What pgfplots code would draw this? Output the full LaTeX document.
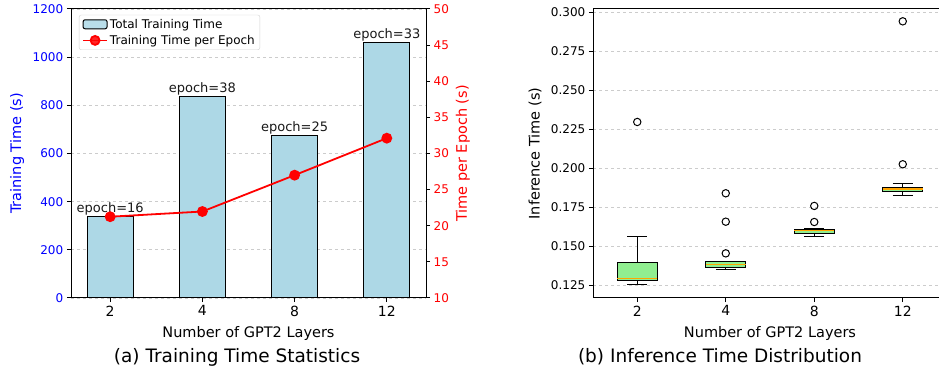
\documentclass[border=0pt]{standalone}
\usepackage{pgfplots}
\pgfplotsset{compat=1.18}
\usepgfplotslibrary{statistics}
\usepackage{fontspec}
\setmainfont{DejaVu Sans}
\definecolor{barblue}{HTML}{ADD8E6}
\definecolor{boxgreen}{HTML}{90EE90}
\definecolor{medorange}{HTML}{FFA500}
\definecolor{gridgray}{HTML}{CCCCCC}
\definecolor{tblue}{HTML}{0000FF}
\definecolor{tred}{HTML}{FF0000}
\begin{document}
\begin{tikzpicture}
\path[use as bounding box] (0pt,0pt) rectangle (939pt,371pt);
\clip (0pt,0pt) rectangle (939pt,371pt);
\pgfplotsset{
  every axis/.append style={
    scale only axis,
    /pgf/number format/assume math mode=true,
    /pgf/number format/set thousands separator={},
    axis line style={line width=1pt, black},
    every tick/.style={line width=1pt, black},
    tick align=outside,
    major tick length=4.2pt,
    xticklabel style={font=\fontsize{14}{16}\selectfont},
    yticklabel style={font=\fontsize{12}{14}\selectfont},
    label style={font=\fontsize{14.5}{17}\selectfont},
    grid style={dashed, gridgray, line width=0.8pt},
  }
}
% ---------- (a) bars ----------
\begin{axis}[
  at={(71pt,73pt)}, anchor=south west, width=355pt, height=289pt,
  xmin=-0.425, xmax=3.425, ymin=0, ymax=1200,
  xtick={0,1,2,3}, xticklabels={2,4,8,12},
  ytick={0,200,400,600,800,1000,1200},
  xtick pos=left, ytick pos=left,
  ymajorgrids,
  yticklabel style={text=tblue},
  xlabel={Number of GPT2 Layers},
  xlabel style={at={(axis description cs:0.5,0)}, anchor=base, yshift=-40pt},
  ylabel={Training Time (s)},
  ylabel style={at={(axis description cs:-0.152,0.5)}, anchor=center, text=tblue},
  ybar, bar width=0.5,
  nodes near coords={\pgfplotspointmeta},
  point meta=explicit symbolic,
  nodes near coords style={font=\fontsize{13}{15}\selectfont, anchor=south, inner sep=0.8pt, text=black!90},
]
\addplot[fill=barblue, draw=black, line width=1pt] coordinates {
  (0,340) [epoch=16]
  (1,835) [epoch=38]
  (2,675) [epoch=25]
  (3,1060) [epoch=33]
};
\end{axis}
\begin{axis}[
  at={(71pt,73pt)}, anchor=south west, width=355pt, height=289pt,
  xmin=-0.425, xmax=3.425, ymin=10, ymax=50,
  axis y line*=right, axis x line=none,
  ytick={10,15,20,25,30,35,40,45,50},
  yticklabel style={text=tred},
  ylabel={Time per Epoch (s)},
  ylabel style={at={(axis description cs:1.104,0.5)}, anchor=center, text=tred},
  legend style={at={(0.0225,0.98)}, anchor=north west, draw=black!18, rounded corners=2pt,
    fill=white, fill opacity=0.85, text opacity=1, font=\fontsize{12}{14}\selectfont,
    inner xsep=3pt, inner ysep=2pt, row sep=1.5pt},
  legend cell align=left,
]
\addlegendimage{legend image code/.code={\draw[fill=barblue, draw=black, line width=1pt] (0pt,-4.5pt) rectangle (24pt,4.5pt);}}
\addlegendentry{Total Training Time}
\addplot[tred, line width=1.8pt, mark=*, mark size=4.5pt,
  legend image code/.code={\draw[tred, line width=1.8pt] (0pt,0pt) -- (24pt,0pt); \fill[tred] (12pt,0pt) circle (4.5pt);}]
  coordinates {(0,21.25) (1,21.97) (2,27.0) (3,32.12)};
\addlegendentry{Training Time per Epoch}
\end{axis}
% ---------- (b) boxplot ----------
\begin{axis}[
  at={(593pt,73pt)}, anchor=south west, width=354pt, height=289pt,
  xmin=0.5, xmax=4.5, ymin=0.1169, ymax=0.3021,
  xtick={1,2,3,4}, xticklabels={2,4,8,12},
  ytick={0.125,0.150,0.175,0.200,0.225,0.250,0.275,0.300},
  scaled y ticks=false,
  yticklabel style={/pgf/number format/fixed, /pgf/number format/fixed zerofill, /pgf/number format/precision=3},
  xtick pos=left, ytick pos=left,
  ymajorgrids,
  xlabel={Number of GPT2 Layers},
  xlabel style={at={(axis description cs:0.5,0)}, anchor=base, yshift=-40pt},
  ylabel={Inference Time (s)},
  ylabel style={at={(axis description cs:-0.1638,0.5)}, anchor=center},
  boxplot/draw direction=y,
]
\addplot[boxplot prepared={draw position=1, lower whisker=0.1256, lower quartile=0.1282, median=0.1295, upper quartile=0.1397, upper whisker=0.1560, box extend=0.45, whisker extend=0.225, every median/.style={draw=medorange, line width=1.5pt}},
  draw=black, fill=boxgreen, line width=1pt, mark=o, mark size=3.7pt, mark options={draw=black, fill=none, line width=1pt}]
  coordinates {(1,0.2297)};
\addplot[boxplot prepared={draw position=2, lower whisker=0.1353, lower quartile=0.1367, median=0.1385, upper quartile=0.1400, upper whisker=0.1402, box extend=0.45, whisker extend=0.225, every median/.style={draw=medorange, line width=1.5pt}},
  draw=black, fill=boxgreen, line width=1pt, mark=o, mark size=3.7pt, mark options={draw=black, fill=none, line width=1pt}]
  coordinates {(2,0.1455) (2,0.1658) (2,0.1840)};
\addplot[boxplot prepared={draw position=3, lower whisker=0.1560, lower quartile=0.1585, median=0.1600, upper quartile=0.1611, upper whisker=0.1615, box extend=0.45, whisker extend=0.225, every median/.style={draw=medorange, line width=1.5pt}},
  draw=black, fill=boxgreen, line width=1pt, mark=o, mark size=3.7pt, mark options={draw=black, fill=none, line width=1pt}]
  coordinates {(3,0.1656) (3,0.1759)};
\addplot[boxplot prepared={draw position=4, lower whisker=0.1827, lower quartile=0.1853, median=0.1868, upper quartile=0.1880, upper whisker=0.1902, box extend=0.45, whisker extend=0.225, every median/.style={draw=medorange, line width=1.5pt}},
  draw=black, fill=boxgreen, line width=1pt, mark=o, mark size=3.7pt, mark options={draw=black, fill=none, line width=1pt}]
  coordinates {(4,0.2026) (4,0.2942)};
\end{axis}
\node[anchor=base, font=\fontsize{18.5}{22}\selectfont] at (237pt,8pt) {(a) Training Time Statistics};
\node[anchor=base, font=\fontsize{18.5}{22}\selectfont] at (720pt,8pt) {(b) Inference Time Distribution};
\end{tikzpicture}
\end{document}
